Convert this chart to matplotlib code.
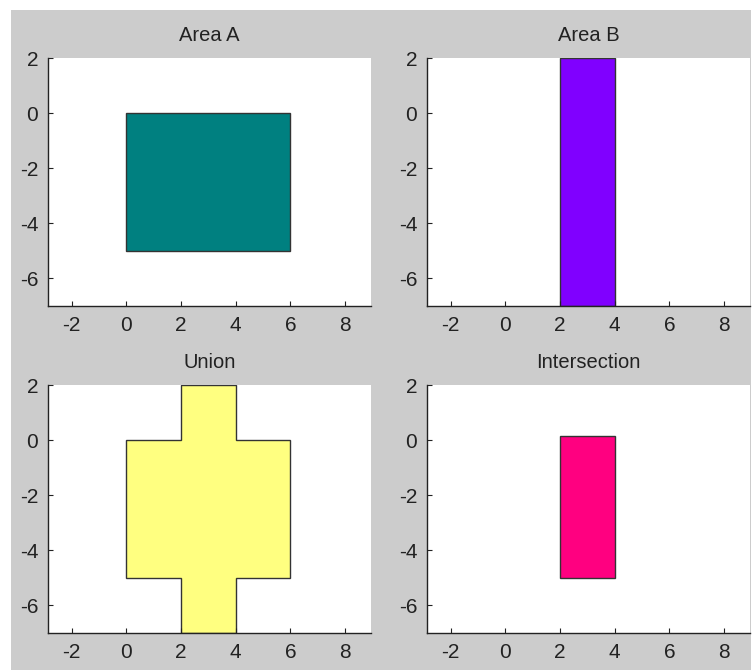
import matplotlib
matplotlib.use("Agg")
import matplotlib.pyplot as plt
from matplotlib.patches import Rectangle

plt.rcParams["font.family"] = ["Liberation Sans", "DejaVu Sans"]
plt.rcParams["axes.unicode_minus"] = False

# polygon outlines for each panel
area_a_x = [0, 6, 6, 0]
area_a_y = [-5, -5, 0, 0]
area_b_x = [2, 4, 4, 2]
area_b_y = [-7, -7, 2, 2]
union_x = [0, 2, 2, 4, 4, 6, 6, 4, 4, 2, 2, 0]
union_y = [-5, -5, -7, -7, -5, -5, 0, 0, 2, 2, 0, 0]
inter_x = [2, 4, 4, 2]
inter_y = [-5, -5, 0.15, 0.15]

titles = ["Area A", "Area B", "Union", "Intersection"]
colors = ["#008080", "#8000FF", "#FFFF80", "#FF0080"]
shapes = [(area_a_x, area_a_y), (area_b_x, area_b_y),
          (union_x, union_y), (inter_x, inter_y)]

xticks = [-2, 0, 2, 4, 6, 8]
yticks = [-6, -4, -2, 0, 2]

W, H = 755, 670
fig = plt.figure(figsize=(W / 100, H / 100), dpi=100, facecolor="white")

# grey figure panel, offset like a window screenshot
fig.add_artist(Rectangle((11 / W, 0), (751 - 11) / W, (H - 10) / H,
                         transform=fig.transFigure, facecolor="#CCCCCC",
                         edgecolor="none", zorder=-10))

# axes boxes in pixels: (left, top, right, bottom)
boxes = [(48, 58, 371, 306), (427, 58, 750, 306),
         (48, 385, 371, 633), (427, 385, 750, 633)]

for (l, t, r, b), title, color, (xs, ys) in zip(boxes, titles, colors, shapes):
    ax = fig.add_axes([l / W, (H - b) / H, (r - l) / W, (b - t) / H])
    ax.set_facecolor("white")
    ax.fill(xs, ys, facecolor=color, edgecolor="#333333", linewidth=1.0)
    ax.set_xlim(-2.86, 8.95)
    ax.set_ylim(-7, 2)
    ax.set_xticks(xticks)
    ax.set_yticks(yticks)
    ax.spines["top"].set_visible(False)
    ax.spines["right"].set_visible(False)
    for s in ("left", "bottom"):
        ax.spines[s].set_linewidth(1.0)
        ax.spines[s].set_color("#222222")
    ax.tick_params(direction="in", length=3.5, width=0.8, colors="#222222",
                   labelsize=15, pad=7, labelcolor="#222222")
    ax.set_title(title, fontsize=14.5, color="#222222", pad=12)

fig.savefig("out.png", dpi=100, facecolor=fig.get_facecolor())
